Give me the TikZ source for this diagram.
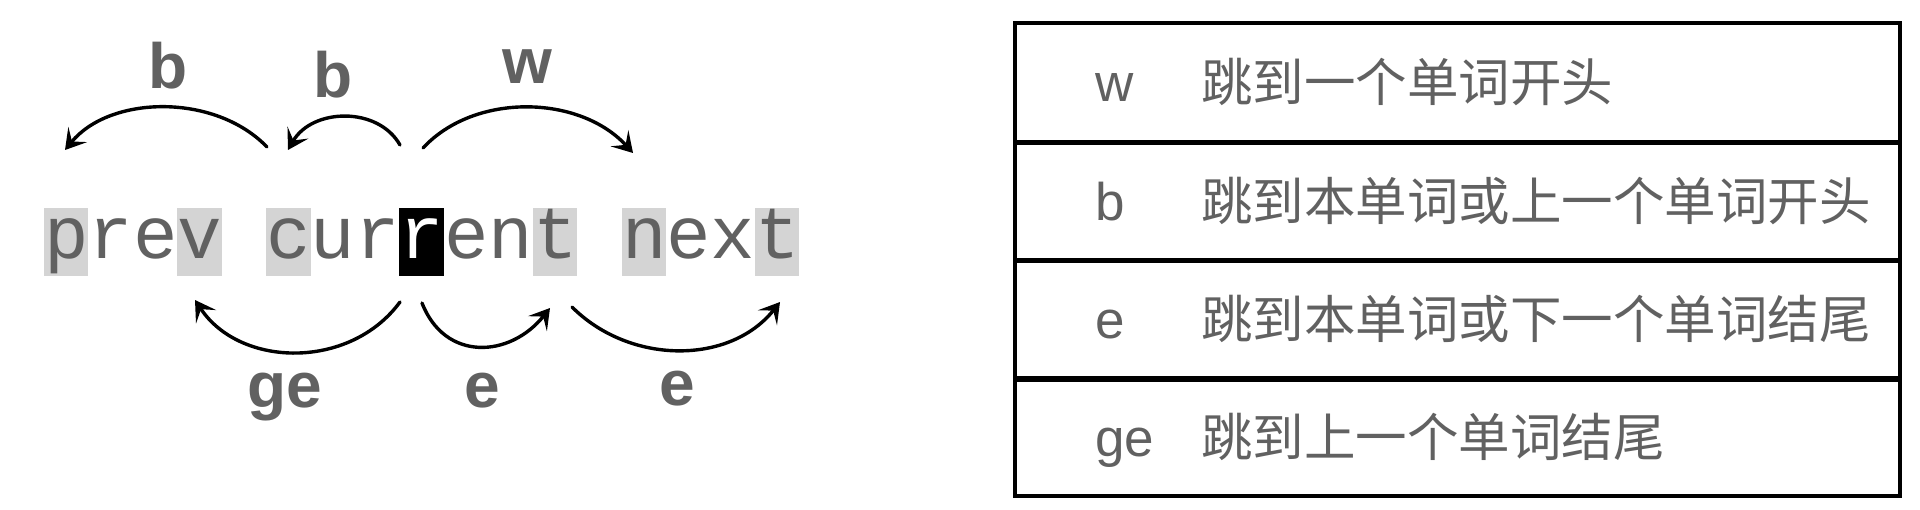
\documentclass[tikz,border=0pt]{standalone}
\usepackage{fontspec}
\usetikzlibrary{arrows.meta}
\newfontfamily\cjkfont{Noto Sans CJK SC}
\newfontfamily\keyfont{Liberation Sans}
\newfontfamily\codefont{Liberation Mono}
\definecolor{txtgray}{HTML}{616161}
\definecolor{hlgray}{HTML}{D4D4D4}
\begin{document}
\begin{tikzpicture}[x=0.5pt,y=-0.5pt,
  hl/.style={fill=hlgray, draw=none, minimum width=22.22pt, minimum height=34pt, inner sep=0pt},
  hlcur/.style={hl, fill=black},
  jump/.style={draw=black, line width=1.7pt, line cap=round, -{Stealth[length=10pt,width=12pt,inset=4.5pt]}},
  lbl/.style={font=\keyfont\bfseries\fontsize{32pt}{36pt}\selectfont, text=txtgray, inner sep=0pt, anchor=base},
  row/.style={draw=black, line width=1.6pt, minimum width=442.5pt, minimum height=59.125pt, inner sep=0pt},
  sep/.style={draw=black, line width=2.2pt},
  keytxt/.style={font=\keyfont\fontsize{26.5pt}{30pt}\selectfont, text=txtgray, inner sep=0pt, anchor=base west},
  desctxt/.style={font=\cjkfont\fontsize{25.75pt}{30pt}\selectfont, text=txtgray, inner sep=0pt, anchor=base west}
]
\useasboundingbox (0,0) rectangle (1920,509);

% highlighted characters
\foreach \i/\nm in {0/p,3/v,5/c,11/t,13/n,16/tt}
  \node[hl] (h\nm) at ({66.1+44.44*\i},242) {};
\node[hlcur] (hr) at ({66.1+44.44*8},242) {};

% code line
\node[anchor=base west, inner sep=0pt, text=txtgray,
      font=\codefont\fontsize{37.03pt}{40pt}\selectfont] (code) at (43.9,258)
      {prev cur\textcolor{white}{r}ent next};

% arrow end points
\coordinate (b1s) at (267,147);
\coordinate (b1t) at (65,150);
\coordinate (b2s) at (400,145);
\coordinate (b2t) at (288,150);
\coordinate (ws)  at (423,148);
\coordinate (wt)  at (633,153);
\coordinate (ges) at (400,302);
\coordinate (get) at (195,300);
\coordinate (e1s) at (422,303);
\coordinate (e1t) at (550,308);
\coordinate (e2s) at (572,307);
\coordinate (e2t) at (780,302);

% arrows above
\draw[jump] (b1s) .. controls (215,93) and (110,95) .. (b1t);
\draw[jump] (b2s) .. controls (378,106) and (312,108) .. (b2t);
\draw[jump] (ws) .. controls (475,92) and (580,95) .. (wt);
% arrows below
\draw[jump] (ges) .. controls (350,370) and (240,368) .. (get);
\draw[jump] (e1s) .. controls (445,362) and (510,358) .. (e1t);
\draw[jump] (e2s) .. controls (630,365) and (730,365) .. (e2t);

% labels
\node[lbl] (lb1) at (168,88) {b};
\node[lbl] (lb2) at (333,97) {b};
\node[lbl] (lw)  at (527,83) {w};
\node[lbl] (lge) at (285,407) {ge};
\node[lbl] (le1) at (482,407) {e};
\node[lbl] (le2) at (677,405) {e};

% table
\node[row] (r1) at (1457.5,82.1) {};
\node[row] (r2) at (1457.5,200.4) {};
\node[row] (r3) at (1457.5,318.6) {};
\node[row] (r4) at (1457.5,436.9) {};
\draw[sep] (r1.south west) -- (r1.south east);
\draw[sep] (r2.south west) -- (r2.south east);
\draw[sep] (r3.south west) -- (r3.south east);

\node[keytxt] (k1) at (1095,101) {w};
\node[keytxt] (k2) at (1095,220) {b};
\node[keytxt] (k3) at (1095,338.5) {e};
\node[keytxt] (k4) at (1095,456) {ge};

\node[desctxt] (d1) at (1201,101) {跳到一个单词开头};
\node[desctxt] (d2) at (1201,220) {跳到本单词或上一个单词开头};
\node[desctxt] (d3) at (1201,338.5) {跳到本单词或下一个单词结尾};
\node[desctxt] (d4) at (1201,456) {跳到上一个单词结尾};
\end{tikzpicture}
\end{document}
